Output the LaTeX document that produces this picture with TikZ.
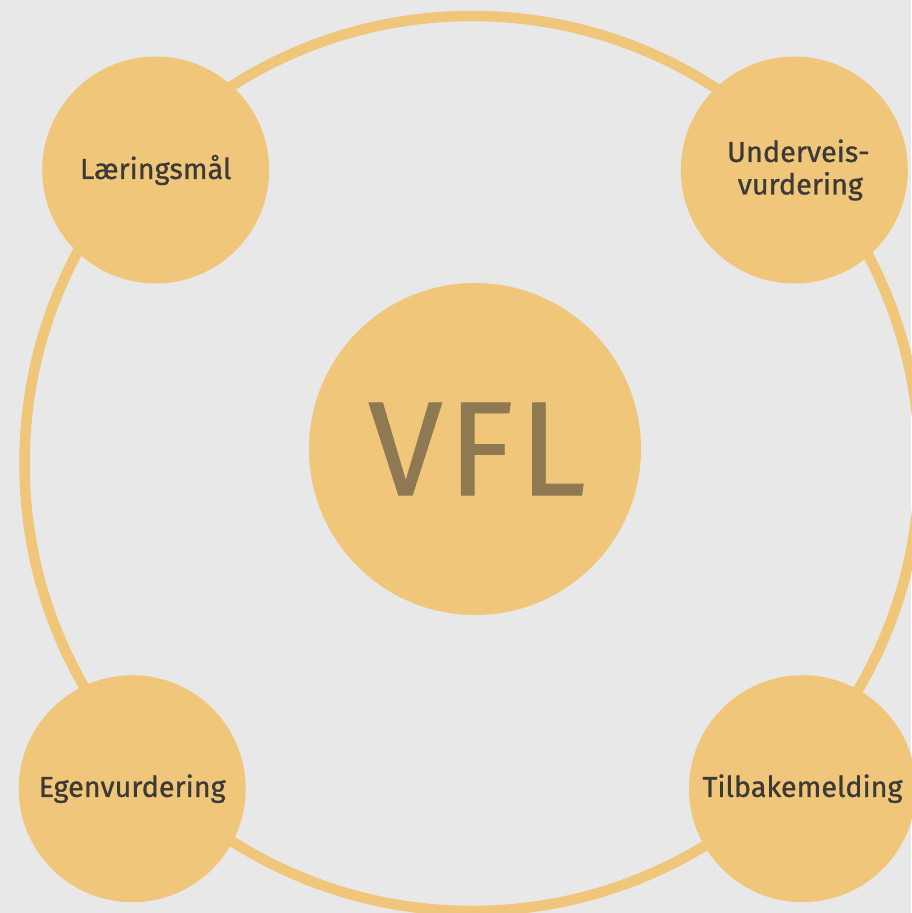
\documentclass[tikz,border=0pt]{standalone}
\usepackage{fontspec}
\setmainfont{Fira Sans}
\newfontfamily\bubblefont{Fira Sans}[FakeBold=0.9]
\newfontfamily\hubfont{Fira Sans}[FakeBold=0.6, LetterSpace=4]
\usepackage{xcolor}
\usepackage{tikz}
\usetikzlibrary{shapes,positioning}
\definecolor{bggray}{RGB}{232,232,232}
\definecolor{honey}{RGB}{240,199,122}
\definecolor{darktext}{RGB}{59,58,54}
\definecolor{vfltext}{RGB}{142,121,82}

\begin{document}
\begin{tikzpicture}[
    x=1pt, y=-1pt,
    ring/.style={circle, draw=honey, line width=10.5pt, minimum size=895pt, inner sep=0pt},
    hub/.style={circle, fill=honey, minimum size=332pt, inner sep=0pt, text=vfltext, font=\hubfont\fontsize{134}{134}\selectfont},
    bubble/.style={circle, fill=honey, minimum size=227pt, inner sep=0pt, text=darktext, align=center, font=\bubblefont\fontsize{28.8}{32.5}\selectfont}
]
\fill[bggray] (0,0) rectangle (911,913);
\useasboundingbox (0,0) rectangle (911,913);

\node[ring] (ring) at (472,463.5) {};
\node[hub] (vfl) at (475,449) {\hspace{4pt}VFL};

\node[bubble] (maal) at (155.7,170) {Læringsmål};
\node[bubble] (underveis) at (794.3,170) {\raisebox{-3pt}{\hspace{8pt}Underveis-}\\\raisebox{-3pt}{\hspace{12pt}vurdering}};
\node[bubble] (egen) at (132.2,788.7) {\raisebox{-4pt}{Egenvurdering}};
\node[bubble] (tilbake) at (802.5,788.7) {Tilbakemelding};
\end{tikzpicture}
\end{document}
